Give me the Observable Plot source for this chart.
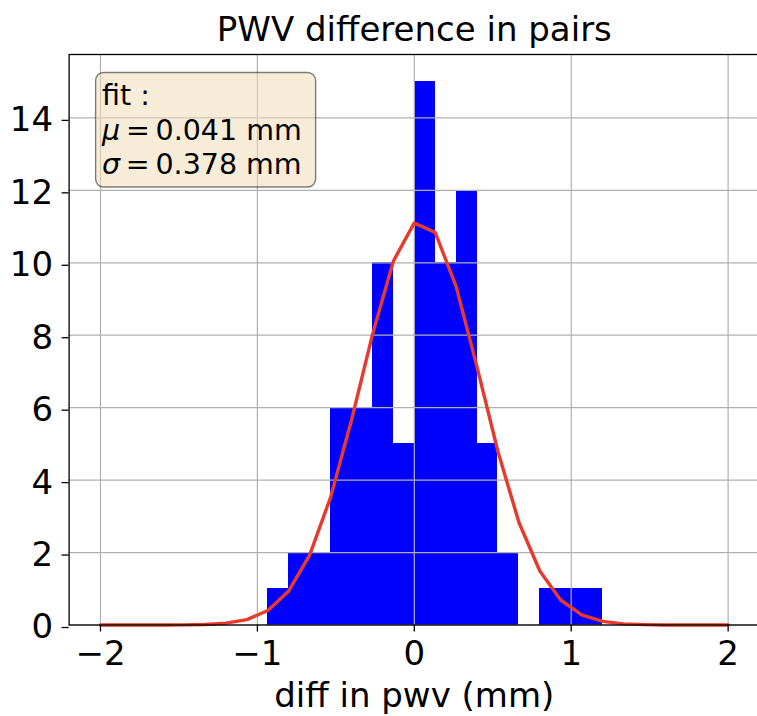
<!DOCTYPE html>
<html><head><meta charset="utf-8">
<script src="https://cdn.jsdelivr.net/npm/d3@7"></script>
<script src="https://cdn.jsdelivr.net/npm/@observablehq/plot@0.6"></script>
<style>body{margin:0;background:#fff} svg{font-family:"DejaVu Sans"}</style>
</head><body><div id="chart"></div>
<script>
// histogram bins (edges) and counts
const binEdges = [-0.933, -0.8, -0.667, -0.533, -0.4, -0.267, -0.133, 0, 0.133, 0.267, 0.4, 0.533, 0.667, 0.8, 0.933, 1.067, 1.2];
const counts = [1, 2, 2, 6, 6, 10, 5, 15, 10, 12, 5, 2, 0, 1, 1, 1];
// gaussian fit curve
const fitX = [-2, -1.867, -1.733, -1.6, -1.467, -1.333, -1.2, -1.067, -0.933, -0.8, -0.667, -0.533, -0.4, -0.267, -0.133, 0, 0.133, 0.267, 0.4, 0.533, 0.667, 0.8, 0.933, 1.067, 1.2, 1.333, 1.467, 1.6, 1.733, 1.867, 2];
const fitY = [0, 0, 0, 0.001, 0.004, 0.015, 0.05, 0.15, 0.40, 0.94, 1.93, 3.53, 5.66, 8.01, 10.05, 11.10, 10.84, 9.34, 7.12, 4.79, 2.83, 1.49, 0.69, 0.28, 0.10, 0.03, 0.01, 0.002, 0, 0, 0];
const xTicks = [-2, -1, 0, 1, 2];
const yTicks = [0, 2, 4, 6, 8, 10, 12, 14];
const title = "PWV difference in pairs";
const xLabel = "diff in pwv (mm)";
const fitHeader = "fit :";
const fitParams = [["μ", "0.041"], ["σ", "0.378"]];
const unit = "mm";

const bins = counts.map((c, i) => ({x1: binEdges[i], x2: binEdges[i + 1], y: c}));
const fit = fitX.map((x, i) => ({x, y: fitY[i]}));
const fmt = d => d < 0 ? "\u2212" + Math.abs(d) : String(d);

const chart = Plot.plot({
  width: 757, height: 716,
  marginLeft: 68.6, marginRight: -2, marginTop: 54, marginBottom: 91.5,
  style: {fontFamily: "DejaVu Sans", fontSize: "34px", background: "white", color: "black"},
  x: {domain: [-2.2, 2.2]},
  y: {domain: [0, 15.75]},
  marks: [
    Plot.rectY(bins, {x1: "x1", x2: "x2", y: "y", fill: "#0000ff", inset: 0, shapeRendering: "crispEdges"}),
    Plot.gridX(xTicks, {stroke: "#b0b0b0", strokeOpacity: 1, strokeWidth: 1.2}),
    Plot.gridY(yTicks, {stroke: "#b0b0b0", strokeOpacity: 1, strokeWidth: 1.2}),
    Plot.line(fit, {x: "x", y: "y", stroke: "#e83a2c", strokeWidth: 3.4}),
    Plot.frame({stroke: "black", strokeWidth: 1.3}),
    Plot.axisX(xTicks, {tickSize: 7, tickPadding: 9, tickFormat: fmt, fontSize: 34, label: null, strokeWidth: 1.3}),
    Plot.axisY(yTicks, {tickSize: 7, tickPadding: 9, tickFormat: fmt, fontSize: 34, label: null, strokeWidth: 1.3, dy: 2.5}),
    Plot.text([title], {frameAnchor: "top", dy: -14, lineAnchor: "bottom", fontSize: 34}),
    Plot.text([xLabel], {frameAnchor: "bottom", dy: 81.5, lineAnchor: "bottom", fontSize: 34})
  ]
});
document.getElementById("chart").appendChild(chart);

// annotation box (fit parameters), placed relative to the plot frame
const svg = d3.select(chart);
const bx = 68.6 + 27, by = 54 + 18.5;
const g = svg.append("g").attr("font-family", "DejaVu Sans").attr("font-size", 28.5).attr("text-anchor", "start");
g.append("rect").attr("x", bx).attr("y", by).attr("width", 220).attr("height", 114.5)
  .attr("rx", 8).attr("fill", "#eedcb8").attr("fill-opacity", 0.55)
  .attr("stroke", "#000").attr("stroke-opacity", 0.5).attr("stroke-width", 1.4);
g.append("text").attr("x", bx + 6.5).attr("y", by + 32.5).attr("text-anchor", "start").text(fitHeader);
fitParams.forEach(([sym, val], i) => {
  const t = g.append("text").attr("x", bx + 6.5).attr("y", by + 67.5 + i * 33.5).attr("text-anchor", "start");
  t.append("tspan").attr("font-style", "italic").text(sym);
  t.append("tspan").text("\u2009=\u2009" + val + " " + unit);
});
</script>
</body></html>
